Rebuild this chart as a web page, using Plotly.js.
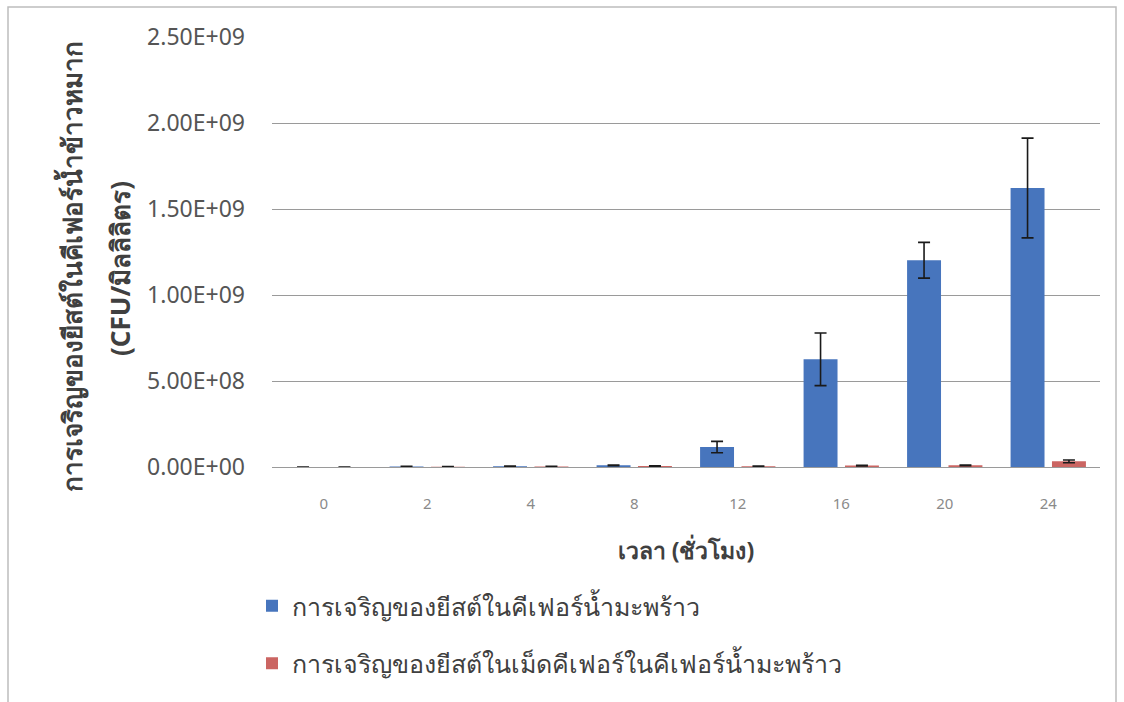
<!DOCTYPE html>
<html>
<head>
<meta charset="utf-8">
<script src="https://cdn.plot.ly/plotly-3.0.1.min.js"></script>
<style>html,body{margin:0;padding:0;background:#fff;}</style>
</head>
<body>
<div id="chart" style="width:1124px;height:702px;"></div>
<script>
const categories = ["0", "2", "4", "8", "12", "16", "20", "24"];
const kefirValues = [0, 3e6, 4e6, 1.0e7, 1.16e8, 6.26e8, 1.202e9, 1.622e9];
const kefirErrors = [0, 1e6, 1e6, 2e6, 3.3e7, 1.53e8, 1.04e8, 2.9e8];
const grainValues = [0, 1e6, 3e6, 6e6, 5e6, 8e6, 1.0e7, 3.3e7];
const grainErrors = [0, 1e6, 1e6, 1e6, 1e6, 2e6, 2e6, 8e6];
const yTickVals = [0, 5e8, 1e9, 1.5e9, 2e9, 2.5e9];
const yTickText = ["0.00E+00", "5.00E+08", "1.00E+09", "1.50E+09", "2.00E+09", "2.50E+09"];
const seriesNames = ["การเจริญของยีสต์ในคีเฟอร์น้ำมะพร้าว", "การเจริญของยีสต์ในเม็ดคีเฟอร์ในคีเฟอร์น้ำมะพร้าว"];
const yTitleLines = ["การเจริญของยีสต์ในคีเฟอร์น้ำข้าวหมาก", "(CFU/มิลลิลิตร)"];

const W = 1124, H = 702, L = 272, R = 24, T = 37, B = 235;
const pw = W - L - R, ph = H - T - B;
const px = v => (v - L) / pw;
const py = v => (H - B - v) / ph;

const traces = [
  {
    type: 'bar', x: categories, y: kefirValues, name: seriesNames[0],
    legendgroup: 'a',
    marker: {color: '#4775BD'},
    error_y: {type: 'data', array: kefirErrors, visible: true, color: '#1a1a1a', thickness: 1.6, width: 6}
  },
  {
    type: 'bar', x: categories, y: grainValues, name: seriesNames[1],
    legendgroup: 'b',
    marker: {color: '#CB6562'},
    error_y: {type: 'data', array: grainErrors, visible: true, color: '#1a1a1a', thickness: 1.6, width: 6}
  }
];

const layout = {
  width: W, height: H,
  margin: {l: L, r: R, t: T, b: B},
  paper_bgcolor: '#ffffff', plot_bgcolor: '#ffffff',
  barmode: 'group', bargap: 0.2, bargroupgap: 0.18,
  font: {family: 'Noto Sans, sans-serif', color: '#404040'},
  showlegend: true,
  legend: {
    orientation: 'v', x: px(252), xanchor: 'left', y: py(583), yanchor: 'top',
    font: {size: 25, color: '#404040'}, tracegroupgap: 22, bgcolor: 'rgba(0,0,0,0)'
  },
  xaxis: {
    type: 'category', showgrid: false, showline: false, zeroline: false,
    ticks: '', tickfont: {size: 15, color: '#8a8a8a'}, ticklabelstandoff: 26,
    title: {text: '<b>เวลา (ชั่วโมง)</b>', font: {size: 23, color: '#404040'}, standoff: 30}
  },
  yaxis: {
    range: [0, 2.5e9], tickvals: yTickVals, ticktext: yTickText,
    showgrid: true, gridcolor: '#9a9a9a', gridwidth: 1,
    zeroline: true, zerolinecolor: '#9a9a9a', zerolinewidth: 1,
    showline: false, ticks: '', tickfont: {size: 23, color: '#555555'}, ticklabelstandoff: 26
  },
  annotations: [
    {
      xref: 'paper', yref: 'paper', x: px(71), y: py(267), xanchor: 'center', yanchor: 'middle',
      textangle: -90, showarrow: false,
      text: '<b>' + yTitleLines[0] + '</b>',
      font: {size: 26, color: '#404040'}
    },
    {
      xref: 'paper', yref: 'paper', x: px(120), y: py(269), xanchor: 'center', yanchor: 'middle',
      textangle: -90, showarrow: false,
      text: '<b>' + yTitleLines[1] + '</b>',
      font: {size: 26, color: '#404040'}
    }
  ],
  shapes: [{
    type: 'rect', xref: 'paper', yref: 'paper',
    x0: px(8), x1: px(1116), y0: py(720), y1: py(7),
    line: {color: '#bdbdbd', width: 1.5}, fillcolor: 'rgba(0,0,0,0)', layer: 'below'
  }]
};

Plotly.newPlot('chart', traces, layout, {displayModeBar: false, staticPlot: true});
</script>
</body>
</html>
